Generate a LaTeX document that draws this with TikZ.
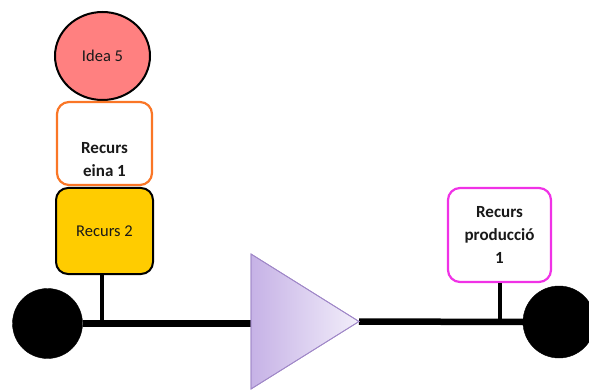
\documentclass[tikz,border=0pt]{standalone}
\usepackage{fontspec}
\setmainfont{Carlito}
\usetikzlibrary{shapes.geometric}
\definecolor{ideafill}{RGB}{255,128,128}
\definecolor{einaline}{RGB}{250,118,38}
\definecolor{goldfill}{RGB}{255,204,0}
\definecolor{prodline}{RGB}{240,50,230}
\definecolor{trileft}{RGB}{198,178,230}
\definecolor{triright}{RGB}{242,238,250}
\definecolor{triedge}{RGB}{160,136,200}
\definecolor{ink}{RGB}{25,25,25}
\tikzset{
  card/.style={rectangle, rounded corners=12pt, line width=2.2pt, align=center,
    font=\fontsize{17}{23}\selectfont\bfseries, text=ink, inner sep=0pt},
  plain/.style={font=\fontsize{16.5}{18}\selectfont, text=ink},
  hub/.style={circle, fill=black, draw=black, inner sep=0pt},
  wire/.style={line width=6.5pt},
  stub/.style={line width=4pt},
  process/.style={draw=triedge, line width=0.8pt, left color=trileft, right color=triright}
}
\begin{document}
\begin{tikzpicture}[x=1pt,y=-1pt]
\useasboundingbox (0,0) rectangle (589,390);
\clip (0,0) rectangle (589,390);

% resources stacked on the left
\node[ellipse, draw=black, line width=2pt, fill=ideafill, minimum width=95pt,
  minimum height=88pt, inner sep=0pt, plain] (idea) at (102.5,56) {Idea 5};
\node[card, draw=einaline, fill=white, minimum width=95pt, minimum height=83pt] (eina) at (104.5,143.5) {\mbox{}\\[20pt]Recurs\\eina 1};
\node[card, draw=black, line width=2pt, fill=goldfill, minimum width=97pt, minimum height=86pt,
  plain] (rec2) at (104.5,231) {Recurs 2};

% output resource on the right
\node[card, draw=prodline, fill=white, minimum width=103pt, minimum height=94pt] (prod) at (499.5,235) {Recurs\\producció\\1};

% process start and end
\node[hub, minimum size=70pt] (lcirc) at (47.5,323.5) {};
\node[hub, minimum size=72pt] (rcirc) at (559,322) {};

% process triangle corners
\coordinate (tritop) at (251,254);
\coordinate (tribot) at (251,389);
\coordinate (tip) at (359,321.5);

% connectors
\draw[wire] (lcirc.east) -- (lcirc.east -| tritop);
\draw[wire] (tip) -- (rcirc.west);
\draw[stub] ([xshift=-3pt]rec2.south) -- ([xshift=-3pt]rec2.south |- lcirc.east);
\draw[stub] (prod.south) -- (prod.south |- rcirc.west);

% process triangle, over the wire
\shade[process] (tritop) -- (tip) -- (tribot) -- cycle;
\draw[draw=triedge, line width=0.8pt] (tritop) -- (tip) -- (tribot) -- cycle;
\end{tikzpicture}
\end{document}
